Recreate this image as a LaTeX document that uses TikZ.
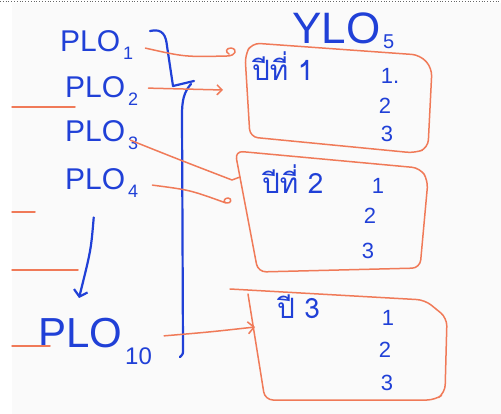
\documentclass[tikz,border=0pt]{standalone}
\usepackage{fontspec}
\setmainfont{Liberation Sans}
\newfontfamily\thaifont[Script=Thai]{Loma}
\usetikzlibrary{arrows.meta,calc}
\definecolor{inkblue}{RGB}{32,64,215}
\definecolor{inkred}{RGB}{240,122,88}
\newcommand{\losub}[3][18]{\kern3pt{\fontsize{#1}{#1}\selectfont\raisebox{#2}{#3}}}
\tikzset{
  pen/.style={draw=inkblue, line width=2.2pt, line cap=round, line join=round},
  marker/.style={draw=inkred, line width=1.5pt, line cap=round, line join=round},
  plo/.style={text=inkblue, inner sep=0pt, anchor=base west, font=\fontsize{30}{30}\selectfont},
  lab/.style={text=inkblue, inner sep=0pt, anchor=base west, font=\thaifont\fontsize{28}{28}\selectfont},
  num/.style={text=inkblue, inner sep=0pt, anchor=base, font=\fontsize{22}{22}\selectfont},
}
\begin{document}
\begin{tikzpicture}[x=1pt,y=-1pt]
        \useasboundingbox (0,0) rectangle (501,414);
        \fill[white] (0,0) rectangle (501,414);
        \fill[black!2] (12,3) rectangle (501,414);
        \draw[dotted, black!60, line width=0.8pt] (0,1) -- (501,1);

        % PLO a sinistra
        \node[plo] (plo1) at (60,52) {PLO\losub{-0.4em}{1}};
        \node[plo] (plo2) at (65,98) {PLO\losub{-0.4em}{2}};
        \node[plo] (plo3) at (65,142) {PLO\losub{-0.4em}{3}};
        \node[plo] (plo4) at (65,190) {PLO\losub{-0.4em}{4}};
        \node[plo, font=\fontsize{42}{42}\selectfont] (plo10) at (38,348) {PLO\losub[24]{-0.7em}{10}};

        % YLO in alto
        \node[plo, font=\fontsize{44}{44}\selectfont] (ylo) at (292,44) {YLO\losub[20]{-0.25em}{5}};

        % tratti tagliati a sinistra
        \draw[marker] (12,107) -- (75,107);
        \draw[marker] (12,212) -- (35,212);
        \draw[marker] (12,270) -- (78,270);
        \draw[marker] (12,346) -- (50,346);

        % freccia da PLO4 a PLO10
        \coordinate (down) at (79,298);
        \draw[pen, -{Straight Barb[length=6pt,width=14pt]}] ($(plo4.south)+(-8,20)$) .. controls (91,250) .. (down);

        % parentesi graffa
        \draw[pen] (150,31) .. controls (163,28) and (166,36) .. (167,46) -- (173,86) -- (194,81);
        \draw[pen] (191,84) .. controls (184,92) and (182,100) .. (182,115) -- (183,350) .. controls (183,354) .. (180,357);

        % riquadri YLO
        \draw[marker, rounded corners=8pt] (252,43) -- (420,55) -- (432,68) -- (428,148) -- (415,153) -- (250,137) -- (245,55) -- cycle;
        \draw[marker, rounded corners=8pt] (235,151) -- (420,168) -- (428,180) -- (420,268) -- (258,272) -- cycle;
        \draw[marker, rounded corners=8pt] (230,289) -- (425,300) -- (447,318) -- (445,393) -- (435,400) -- (265,400) -- (248,294);

        % contenuto dei riquadri
        \node[lab] (lab1) at (252,81) {ปีที่ 1};
        \node[lab] (lab2) at (262,194) {ปีที่ 2};
        \node[lab] (lab3) at (277,319) {ปี 3};
        \node[num] (n11) at (390,84) {1.};
        \node[num] (n12) at (385,114) {2};
        \node[num] (n13) at (387,142) {3};
        \node[num] (n21) at (378,194) {1};
        \node[num] (n22) at (370,224) {2};
        \node[num] (n23) at (368,259) {3};
        \node[num] (n31) at (388,326) {1};
        \node[num] (n32) at (385,357) {2};
        \node[num] (n33) at (387,390) {3};

        % frecce PLO -> riquadri
        \coordinate (in1) at (227,56);
        \coordinate (in2) at (223,90);
        \coordinate (in3) at (232,180);
        \coordinate (in4) at (226,203);
        \coordinate (in10) at (255,327);
        \draw[marker] ($(plo1.east)+(12,3)$) .. controls (185,57) .. (in1) .. controls (236,56) and (238,49) .. (231,48) .. controls (226,48) and (225,52) .. (229,54);
        \draw[marker, -{Straight Barb[length=5pt,width=10pt]}] ($(plo2.east)+(10,-3)$) -- (in2);
        \draw[marker] ($(plo3.east)+(-8,5)$) .. controls (180,160) .. (in3) -- (240,177);
        \draw[marker] ($(plo4.east)+(14,2)$) .. controls (190,190) .. (in4) .. controls (232,204) and (232,198) .. (228,198) .. controls (224,198) and (223,202) .. (226,203);
        \draw[marker, -{Straight Barb[length=6pt,width=12pt]}] ($(plo10.east)+(12,-6)$) .. controls (210,332) .. (in10);
\end{tikzpicture}
\end{document}
